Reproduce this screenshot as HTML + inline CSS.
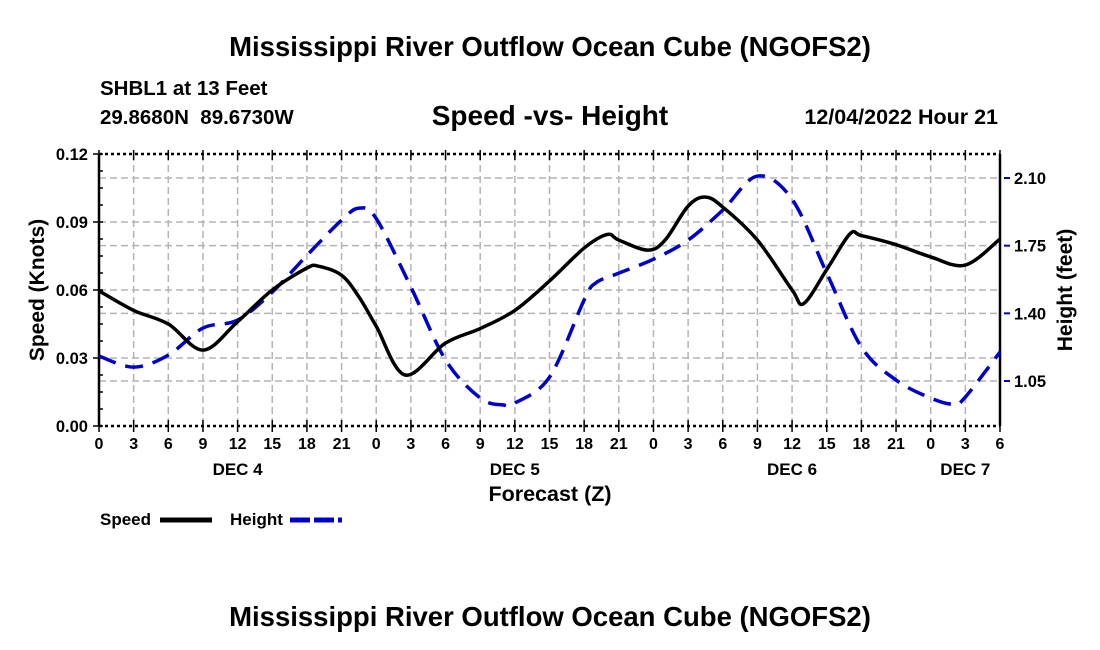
<!DOCTYPE html>
<html><head><meta charset="utf-8"><style>
body{margin:0;background:#fff;}
svg{display:block;font-family:"Liberation Sans",Arial,sans-serif;font-weight:bold;}
</style></head><body>
<svg id="c" width="1100" height="650">
<text x="550" y="56" font-size="27.5" text-anchor="middle">Mississippi River Outflow Ocean Cube (NGOFS2)</text>
<text x="100" y="95" font-size="20.5">SHBL1 at 13 Feet</text>
<text x="100" y="124" font-size="20.5" xml:space="preserve">29.8680N  89.6730W</text>
<text x="550" y="125" font-size="28" text-anchor="middle">Speed -vs- Height</text>
<text x="998" y="124" font-size="21.5" text-anchor="end">12/04/2022 Hour 21</text>
<text transform="translate(44,290) rotate(-90)" font-size="21" text-anchor="middle">Speed (Knots)</text>
<text transform="translate(1072,290) rotate(-90)" font-size="21" text-anchor="middle">Height (feet)</text>
<text x="550" y="501" font-size="21.5" text-anchor="middle">Forecast (Z)</text>
<text x="100" y="525" font-size="17">Speed</text>
<line x1="160" y1="520" x2="212" y2="520" stroke="#000" stroke-width="5"/>
<text x="230" y="525" font-size="17">Height</text>
<line x1="290" y1="520" x2="342" y2="520" stroke="#0000cc" stroke-width="5" stroke-dasharray="20,4"/>
<text x="550" y="626" font-size="27.5" text-anchor="middle">Mississippi River Outflow Ocean Cube (NGOFS2)</text>
<g id="g"></g>
</svg>
<script>
const speedHours=[0,3,6,9,12,15,18,19,21,22.5,24,26.5,30,33,36,39,42,44,45,47.5,49,51,52.5,54,57,60,61,63,65,66,69,72,75,78];
const speedValues=[.0596,.051,.045,.0335,.046,.060,.0697,.0705,.0665,.057,.044,.0225,.0366,.043,.051,.064,.0785,.0845,.082,.0776,.082,.097,.101,.0966,.082,.060,.054,.069,.0847,.084,.080,.0746,.071,.0825];
const heightHours=[0,3,6,9,12,15,18,21,22.5,24,27,30,33,35,36,39,42,43,45,48,51,54,57,60,63,66,69,72,74,75,78];
const heightValues=[1.179,1.122,1.184,1.324,1.365,1.51,1.70,1.882,1.944,1.89,1.536,1.159,0.962,0.926,0.936,1.07,1.469,1.557,1.608,1.68,1.779,1.934,2.11,1.99,1.608,1.226,1.055,0.962,0.93,0.967,1.20];
const speedTicks=["0.00","0.03","0.06","0.09","0.12"];
const heightTicks=["1.05","1.40","1.75","2.10"];
const hourLabels=["0","3","6","9","12","15","18","21"];
const dayLabels=["DEC 4","DEC 5","DEC 6","DEC 7"];
const dayLabelHours=[12,36,60,75];

const L=99,R=1000,T=154,B=426;
const xs=h=>L+(R-L)*h/78;
const ys=v=>B-(B-T)*v/0.12;
const yh=v=>381-(v-1.05)*(381-178)/1.05;
const g=document.getElementById('g');
const NS='http://www.w3.org/2000/svg';
function mk(tag,attrs,parent){const e=document.createElementNS(NS,tag);for(const k in attrs)e.setAttribute(k,attrs[k]);(parent||g).appendChild(e);return e;}

for(let h=3;h<78;h+=3){const e=mk('line',{x1:xs(h),x2:xs(h),y1:T,y2:B,stroke:'#b4b4b4','stroke-width':1.5,'stroke-dasharray':'7,4'});

}
speedTicks.forEach(t=>{const v=parseFloat(t);if(v>0&&v<0.12){const e=mk('line',{x1:L,x2:R,y1:ys(v),y2:ys(v),stroke:'#b4b4b4','stroke-width':1.5,'stroke-dasharray':'7,4'});

}});
heightTicks.forEach(t=>{const v=parseFloat(t);const e=mk('line',{x1:L,x2:R,y1:yh(v),y2:yh(v),stroke:'#b4b4b4','stroke-width':1.5,'stroke-dasharray':'7,4'});

});

let a=mk('line',{x1:L,x2:R,y1:T,y2:T,stroke:'#000','stroke-width':2.5,'stroke-dasharray':'3,3'});

a=mk('line',{x1:L,x2:R,y1:B,y2:B,stroke:'#000','stroke-width':2.5,'stroke-dasharray':'3,3'});

a=mk('line',{x1:L,x2:L,y1:T,y2:B,stroke:'#000','stroke-width':2.5});

a=mk('line',{x1:R,x2:R,y1:T,y2:B,stroke:'#000','stroke-width':2.5});


for(let v=0;v<=0.12001;v+=0.0075){mk('line',{x1:L-(Math.abs(v/0.03-Math.round(v/0.03))<0.01?6:0),x2:L+4,y1:ys(v),y2:ys(v),stroke:'#000','stroke-width':1.5});}
speedTicks.forEach(t=>{const e=mk('text',{x:L-11,y:ys(parseFloat(t))+6,'font-size':16.5,'text-anchor':'end'});e.textContent=t;

});
heightTicks.forEach(t=>{const y=yh(parseFloat(t));mk('line',{x1:R+4,x2:R+10,y1:y,y2:y,stroke:'#0000cc','stroke-width':2});
const e=mk('text',{x:R+14,y:y+6,'font-size':16.5});e.textContent=t;

});
for(let h=0;h<=78;h+=3){mk('line',{x1:xs(h),x2:xs(h),y1:B-6,y2:B+6,stroke:'#000','stroke-width':1.5});mk('line',{x1:xs(h),x2:xs(h),y1:T-4,y2:T+6,stroke:'#000','stroke-width':1.5});
const e=mk('text',{x:xs(h),y:B+23,'font-size':16,'text-anchor':'middle'});e.textContent=hourLabels[(h/3)%8];

}
dayLabels.forEach((d,i)=>{const e=mk('text',{x:xs(dayLabelHours[i]),y:B+49,'font-size':17,'text-anchor':'middle'});e.textContent=d;

});

function pathOf(hs,vs,yf){const p=hs.map((h,i)=>[xs(h),yf(vs[i])]);let d='M'+p[0][0]+','+p[0][1];
for(let i=0;i<p.length-1;i++){const p0=p[Math.max(0,i-1)],p1=p[i],p2=p[i+1],p3=p[Math.min(p.length-1,i+2)];
const c1=[p1[0]+(p2[0]-p0[0])/6,p1[1]+(p2[1]-p0[1])/6],c2=[p2[0]-(p3[0]-p1[0])/6,p2[1]-(p3[1]-p1[1])/6];
d+=' C'+c1[0]+','+c1[1]+' '+c2[0]+','+c2[1]+' '+p2[0]+','+p2[1];}return d;}
let s=mk('path',{d:pathOf(heightHours,heightValues,yh),fill:'none',stroke:'#0000cc','stroke-width':3.5,'stroke-dasharray':'18,10'});

s=mk('path',{d:pathOf(speedHours,speedValues,ys),fill:'none',stroke:'#000','stroke-width':3.5});

</script>
</body></html>
